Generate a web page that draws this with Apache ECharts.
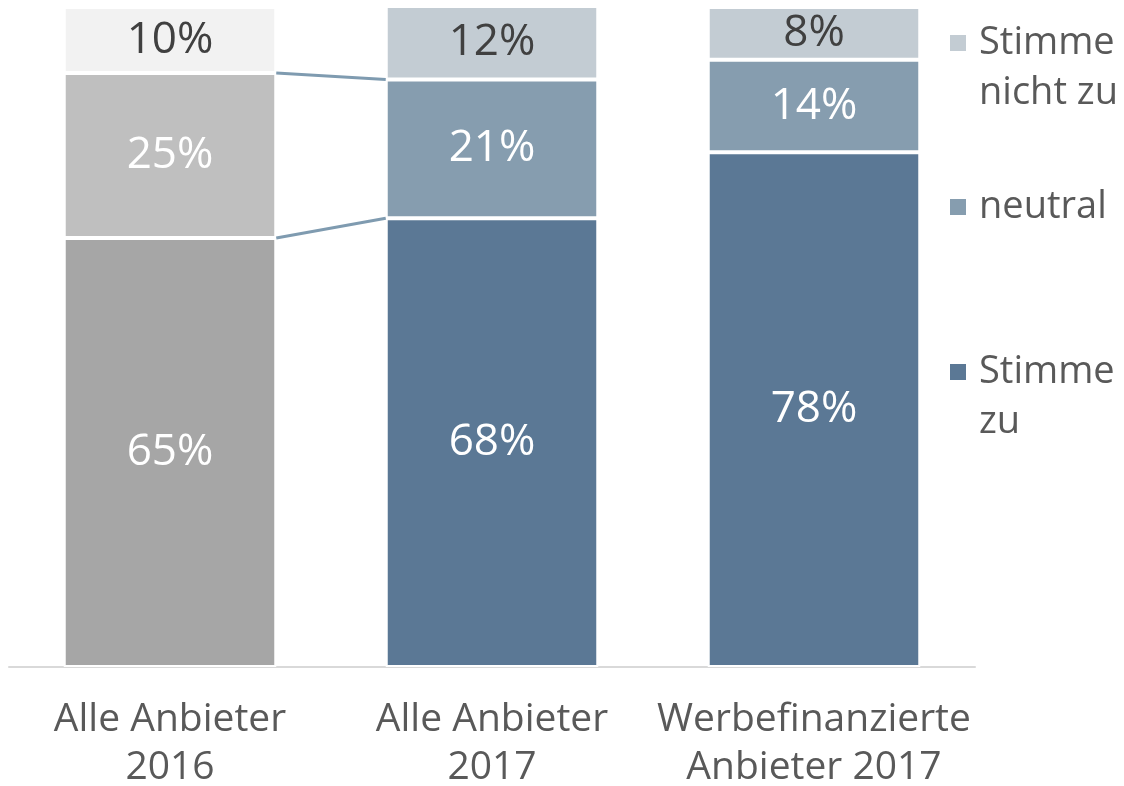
<!DOCTYPE html>
<html>
<head>
<meta charset="utf-8">
<script src="https://cdn.jsdelivr.net/npm/echarts@6/dist/echarts.min.js"></script>
<style>
  html, body { margin: 0; padding: 0; background: #fff; }
  #main { width: 1124px; height: 786px; }
</style>
</head>
<body>
<div id="main"></div>
<script>
// Kategorien und Werte (Anteile in %)
var categories = ['Alle Anbieter\n2016', 'Alle Anbieter\n2017', 'Werbefinanzierte\nAnbieter 2017'];
var stimmeZu = [65, 68, 78];
var neutral = [25, 21, 14];
var stimmeNichtZu = [10, 12, 8];

var seriesNames = ['Stimme zu', 'neutral', 'Stimme nicht zu'];
// leere erste Zeile, damit das Symbol auf Höhe der ersten Textzeile sitzt
var legendText = [' \nStimme\nzu', 'neutral', ' \nStimme\nnicht zu'];

// Farben: 2016 grau, 2017 blau
var blueColors = ['#5b7895', '#869daf', '#c3ccd3'];
var greyColors = ['#a6a6a6', '#bfbfbf', '#f2f2f2'];
var labelColors = ['#ffffff', '#ffffff', '#404040'];

var font = '"Open Sans", "Noto Sans", sans-serif';
var barGap = 0.34;

var myChart = echarts.init(document.getElementById('main'));

function makeSeries(idx, values) {
    return {
        name: seriesNames[idx],
        type: 'bar',
        stack: 'total',
        barCategoryGap: (barGap * 100) + '%',
        itemStyle: { color: blueColors[idx], borderColor: '#fff', borderWidth: 2 },
        label: {
            show: true,
            position: 'inside',
            formatter: '{c}%',
            fontFamily: font,
            fontSize: 44,
            color: labelColors[idx]
        },
        data: values.map(function (v, i) {
            return i === 0 ? { value: v, itemStyle: { color: greyColors[idx] } } : v;
        })
    };
}

// Verbindungslinien zwischen Balken 1 und 2 (kumulierte Werte)
var connectors = [
    [0, stimmeZu[0], 1, stimmeZu[1]],
    [0, stimmeZu[0] + neutral[0], 1, stimmeZu[1] + neutral[1]]
];

function legendFor(idx, top) {
    return {
        data: [seriesNames[idx]],
        left: 948,
        top: top,
        padding: 0,
        selectedMode: false,
        itemWidth: 18,
        itemHeight: 18,
        icon: 'rect',
        formatter: function () { return legendText[idx]; },
        textStyle: {
            fontFamily: font,
            fontSize: 38,
            lineHeight: 50,
            color: '#595959',
            padding: [0, 0, 0, 7]
        }
    };
}

var option = {
    animation: false,
    grid: { left: 9, right: 149, top: 7, bottom: 119, outerBoundsMode: 'none' },
    legend: [
        legendFor(2, -32),
        legendFor(1, 182),
        legendFor(0, 297)
    ],
    xAxis: {
        type: 'category',
        data: categories,
        axisTick: { show: false },
        axisLine: { lineStyle: { color: '#d9d9d9', width: 2 } },
        axisLabel: {
            fontFamily: font,
            fontSize: 39,
            lineHeight: 48,
            color: '#595959',
            margin: 29,
            interval: 0
        }
    },
    yAxis: {
        type: 'value',
        min: 0,
        max: 100,
        show: false
    },
    series: [
        makeSeries(0, stimmeZu),
        makeSeries(1, neutral),
        makeSeries(2, stimmeNichtZu),
        {
            type: 'custom',
            silent: true,
            encode: { x: [0, 2], y: [1, 3] },
            renderItem: function (params, api) {
                var p1 = api.coord([api.value(0), api.value(1)]);
                var p2 = api.coord([api.value(2), api.value(3)]);
                var half = api.size([1, 0])[0] * (1 - barGap) / 2;
                return {
                    type: 'line',
                    shape: { x1: p1[0] + half, y1: p1[1], x2: p2[0] - half, y2: p2[1] },
                    style: { stroke: '#7f9bb0', lineWidth: 3 }
                };
            },
            data: connectors,
            z: 5
        }
    ]
};
myChart.setOption(option);
</script>
</body>
</html>
